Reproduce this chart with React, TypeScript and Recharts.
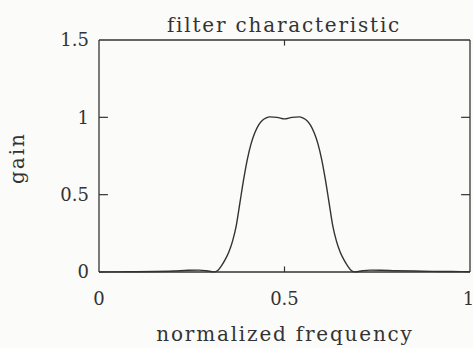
import React from 'react';
import { LineChart, Line, XAxis, YAxis, ReferenceLine, Label } from 'recharts';

const freq = [0, 0.05, 0.1, 0.15, 0.2, 0.24, 0.27, 0.29, 0.31, 0.32, 0.33, 0.34, 0.35, 0.36, 0.37, 0.38, 0.39, 0.4, 0.41, 0.42, 0.43, 0.44, 0.45, 0.46, 0.48, 0.5, 0.52, 0.54, 0.55, 0.56, 0.57, 0.58, 0.59, 0.6, 0.61, 0.62, 0.63, 0.64, 0.65, 0.66, 0.67, 0.68, 0.69, 0.71, 0.73, 0.76, 0.8, 0.85, 0.9, 0.95, 1];
const gain = [0, 0.001, 0.002, 0.003, 0.006, 0.011, 0.012, 0.008, 0.001, 0.01, 0.04, 0.08, 0.13, 0.2, 0.3, 0.45, 0.6, 0.73, 0.83, 0.9, 0.95, 0.98, 0.995, 1.003, 1.0, 0.99, 1.0, 1.003, 0.995, 0.98, 0.95, 0.9, 0.83, 0.73, 0.6, 0.45, 0.3, 0.2, 0.13, 0.08, 0.04, 0.01, 0.001, 0.008, 0.012, 0.011, 0.008, 0.006, 0.004, 0.003, 0.002];
const xTicks = [0, 0.5, 1];
const yTicks = [0, 0.5, 1, 1.5];
const xTickLabels = ['0', '0.5', '1'];
const yTickLabels = ['0', '0.5', '1', '1.5'];
const title = 'filter characteristic';
const xTitle = 'normalized frequency';
const yTitle = 'gain';

const data = freq.map((f, i) => ({ f, g: gain[i] }));

const INK = '#333333';
const FONT = '"DejaVu Serif", serif';
const XT = 0.024; // tick length in x data units
const YT = 0.036; // tick length in y data units

export default function App() {
  return (
    <div style={{ position: 'absolute', left: 0, top: 0, width: 473, height: 348, background: '#fbfbf9' }}>
      <LineChart width={473} height={348} data={data} margin={{ top: 40, right: 3, bottom: 46, left: 39 }}>
        <XAxis
          dataKey="f"
          type="number"
          domain={[0, 1]}
          ticks={xTicks}
          tickFormatter={(v: number) => xTickLabels[xTicks.indexOf(v)] ?? String(v)}
          tickLine={false}
          tickSize={12}
          tickMargin={8}
          height={30}
          stroke={INK}
          strokeWidth={1.3}
          tick={{ fill: INK, fontFamily: FONT, fontSize: 18 }}
        >
          <Label
            content={() => (
              <g>
                <text x={285} y={341} textAnchor="middle" fill={INK} fontFamily={FONT} fontSize={20} letterSpacing={1.8}>
                  {xTitle}
                </text>
                <text x={284} y={32} textAnchor="middle" fill={INK} fontFamily={FONT} fontSize={20} letterSpacing={1.8}>
                  {title}
                </text>
              </g>
            )}
          />
        </XAxis>
        <YAxis
          type="number"
          domain={[0, 1.5]}
          ticks={yTicks}
          tickFormatter={(v: number) => yTickLabels[yTicks.indexOf(v)] ?? String(v)}
          tickLine={false}
          tickSize={4}
          tickMargin={6}
          width={60}
          stroke={INK}
          strokeWidth={1.3}
          tick={{ fill: INK, fontFamily: FONT, fontSize: 18 }}
        >
          <Label
            content={() => (
              <text x={24} y={158} transform="rotate(-90, 24, 158)" textAnchor="middle" fill={INK} fontFamily={FONT} fontSize={20} letterSpacing={2}>
                {yTitle}
              </text>
            )}
          />
        </YAxis>
        <ReferenceLine y={1.5} stroke={INK} strokeWidth={1.3} />
        <ReferenceLine x={1} stroke={INK} strokeWidth={1.3} />
        <ReferenceLine segment={[{ x: 0, y: 0.5 }, { x: XT, y: 0.5 }]} stroke={INK} strokeWidth={1.2} />
        <ReferenceLine segment={[{ x: 0, y: 1 }, { x: XT, y: 1 }]} stroke={INK} strokeWidth={1.2} />
        <ReferenceLine segment={[{ x: 1 - XT, y: 0.5 }, { x: 1, y: 0.5 }]} stroke={INK} strokeWidth={1.2} />
        <ReferenceLine segment={[{ x: 1 - XT, y: 1 }, { x: 1, y: 1 }]} stroke={INK} strokeWidth={1.2} />
        <ReferenceLine segment={[{ x: 0.5, y: 0 }, { x: 0.5, y: YT }]} stroke={INK} strokeWidth={1.2} />
        <ReferenceLine segment={[{ x: 0.5, y: 1.5 - YT }, { x: 0.5, y: 1.5 }]} stroke={INK} strokeWidth={1.2} />
        <Line
          type="monotone"
          dataKey="g"
          stroke={INK}
          strokeWidth={1.4}
          dot={false}
          isAnimationActive={false}
        />
      </LineChart>
    </div>
  );
}
